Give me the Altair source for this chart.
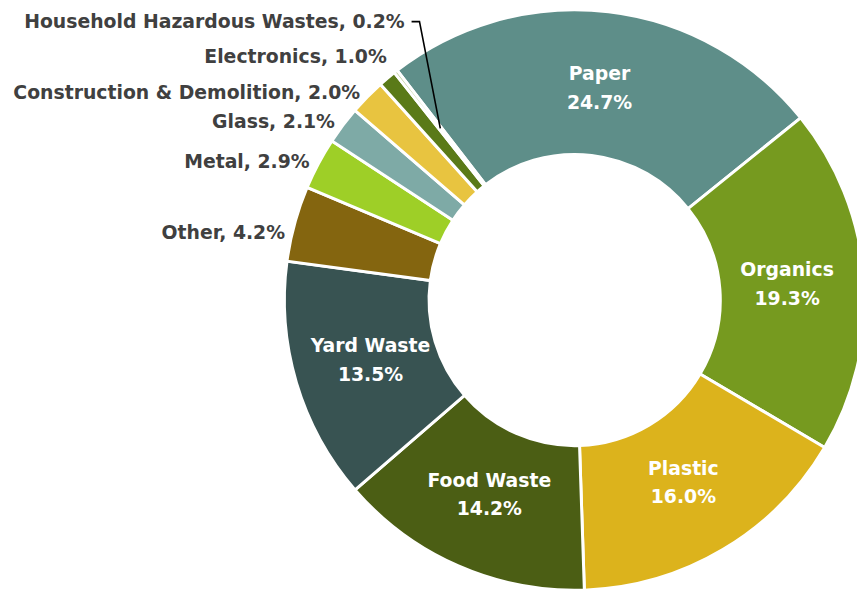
import math
import altair as alt
import pandas as pd

categories = ["Paper", "Organics", "Plastic", "Food Waste", "Yard Waste", "Other",
              "Metal", "Glass", "Construction & Demolition", "Electronics",
              "Household Hazardous Wastes"]
shares = [24.7, 19.3, 16.0, 14.2, 13.5, 4.2, 2.9, 2.1, 2.0, 1.0, 0.2]
placement = ["inside"] * 5 + ["outside_low", "outside", "outside", "outside",
                              "outside_up", "callout"]
colors = ["#5E8E89", "#769A1F", "#DCB31C", "#4B5E14", "#385352", "#84650F",
          "#9ECF27", "#7EAAA6", "#E8C440", "#5A7A18", "#B9C98F"]

# layout constants
W, H = 857, 588
CX, CY = 572, 292
R_OUT, R_IN = 293, 147
R_LABEL_IN, R_LABEL_OUT, R_CALLOUT = 215, 303, 220
A0 = -37.7 * math.pi / 180
THETA_RANGE = [2 * math.pi + A0, 4 * math.pi + A0]
FONT = "DejaVu Sans"
OUT_COLOR = "#404040"

df = pd.DataFrame({"cat": categories, "share": shares, "place": placement,
                   "idx": list(range(len(categories)))})

# callout (leader line) derived from the data
total = sum(shares)
mid_frac = (sum(shares[:-1]) + shares[-1] / 2) / total
ang = A0 + 2 * math.pi * mid_frac
px = CX + R_CALLOUT * math.sin(ang)
py = CY - R_CALLOUT * math.cos(ang)
label_y = 11
leader = pd.DataFrame({"x": [px - 29, px - 21, px], "y": [label_y, label_y, py],
                       "o": [0, 1, 2]})
callout_text = pd.DataFrame({"x": [px - 36], "y": [label_y],
                             "t": [f"{categories[-1]}, {shares[-1]:.1f}%"]})

theta = alt.Theta("share:Q", stack=True, scale=alt.Scale(range=THETA_RANGE))
order = alt.Order("idx:Q", sort="ascending")

base = alt.Chart(df).encode(theta=theta, order=order,
                            x=alt.value(CX), y=alt.value(CY))

arcs = base.mark_arc(outerRadius=R_OUT, innerRadius=R_IN, stroke="white",
                     strokeWidth=3).encode(
    color=alt.Color("cat:N", scale=alt.Scale(domain=categories, range=colors),
                    legend=None)
)

inside_text = base.transform_calculate(
    lab="datum.place == 'inside' ? [datum.cat, format(datum.share, '.1f') + '%'] : ''"
).mark_text(radius=R_LABEL_IN, font=FONT, fontSize=19, fontWeight="bold",
            color="white", align="center", baseline="middle", lineHeight=29,
            dy=-14.5
).encode(text="lab:N")


def outside_layer(place, dx, dy):
    return base.transform_calculate(
        lab=f"datum.place == '{place}' ? datum.cat + ', ' + format(datum.share, '.1f') + '%' : ''"
    ).mark_text(radius=R_LABEL_OUT, font=FONT, fontSize=19, fontWeight="bold",
                color=OUT_COLOR, align="right", baseline="middle", dx=dx, dy=dy
    ).encode(text="lab:N")


outside_main = outside_layer("outside", 0, 3)
outside_low = outside_layer("outside_low", 0, 12)
outside_up = outside_layer("outside_up", 6, -14)

leader_line = alt.Chart(leader).mark_line(color="black", strokeWidth=1.6).encode(
    x=alt.X("x:Q", scale=None, axis=None),
    y=alt.Y("y:Q", scale=None, axis=None),
    order="o:Q",
)

callout = alt.Chart(callout_text).mark_text(
    font=FONT, fontSize=19, fontWeight="bold", color=OUT_COLOR,
    align="right", baseline="middle"
).encode(
    x=alt.X("x:Q", scale=None, axis=None),
    y=alt.Y("y:Q", scale=None, axis=None),
    text="t:N",
)

chart = alt.layer(arcs, inside_text, outside_main, outside_low, outside_up,
                  leader_line, callout).properties(
    width=W, height=H, autosize=alt.AutoSizeParams(type="none"), padding=0
).configure_view(stroke=None)

chart.save("out.html", embed_options={"renderer": "svg", "actions": False})
